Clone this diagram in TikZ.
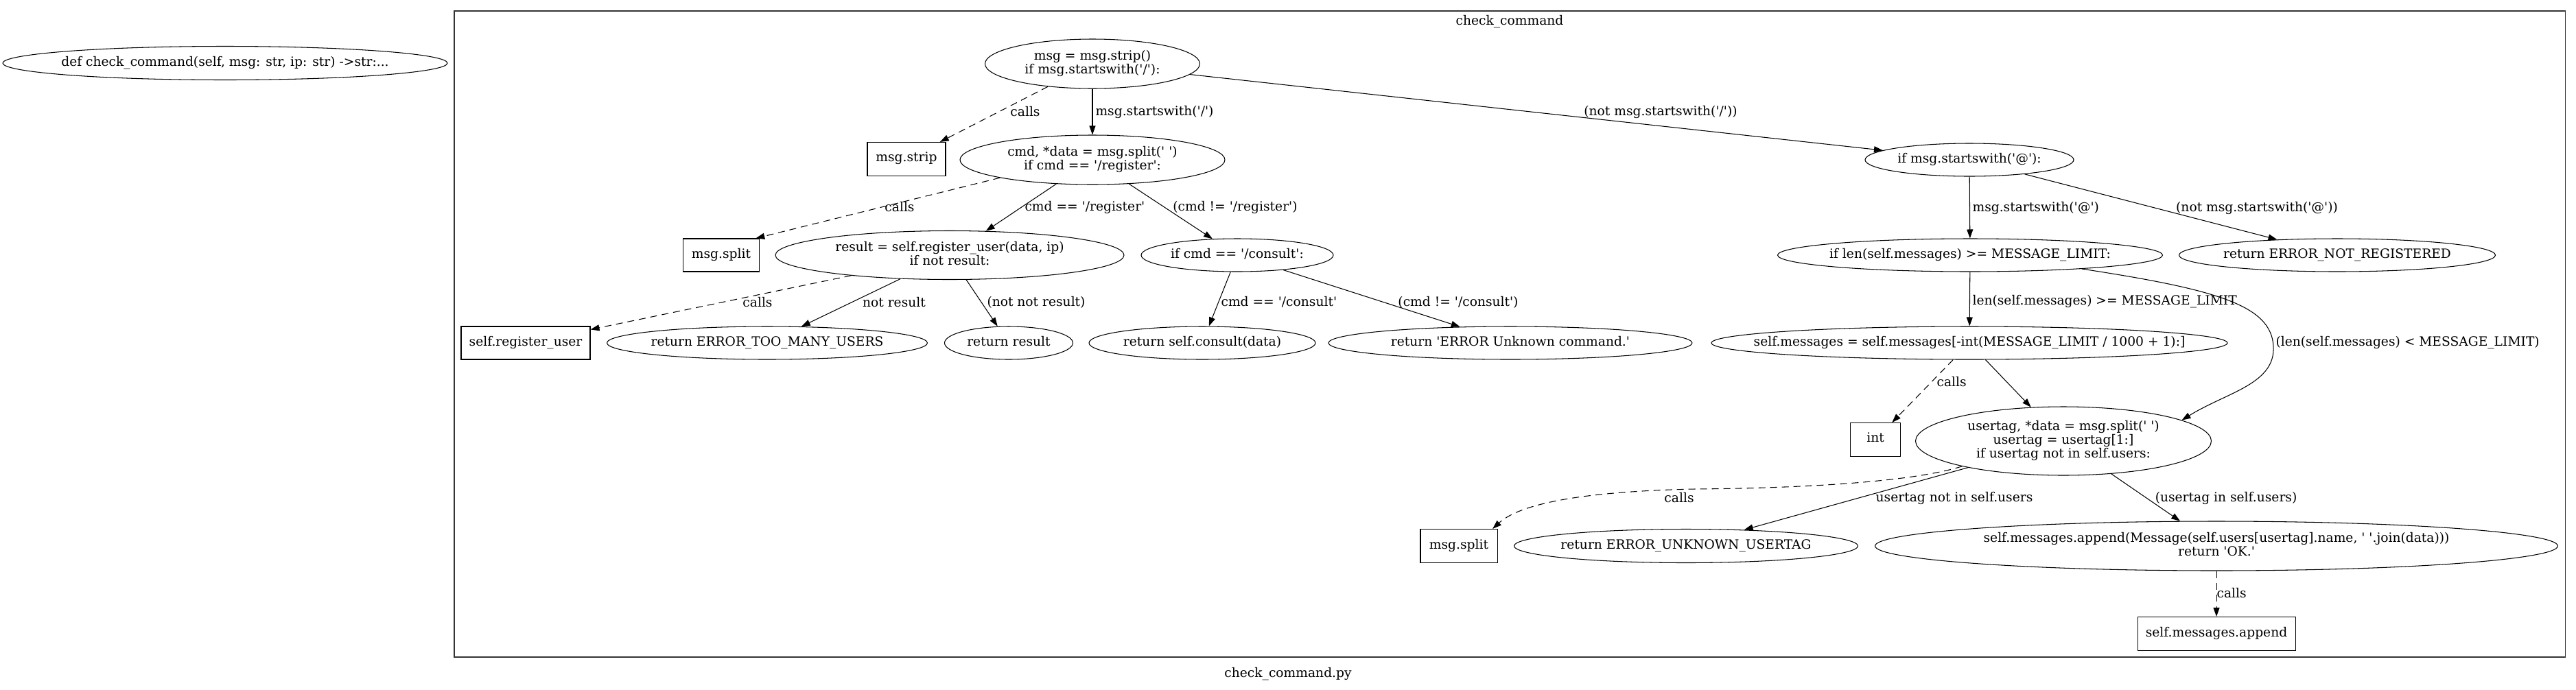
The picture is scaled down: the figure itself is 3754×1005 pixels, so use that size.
\documentclass[tikz,border=0pt]{standalone}
\usepackage{fontspec}
\newfontfamily\gvfont{DejaVu Serif}
\usetikzlibrary{arrows.meta,shapes.geometric}
\newcommand\gvt[1]{\makebox[0pt]{\begin{tabular}{@{}c@{}}#1\end{tabular}}}
\begin{document}
\begin{tikzpicture}[x=1pt,y=-1pt,
  font=\gvfont\fontsize{18.67pt}{19.5pt}\selectfont,
  line width=1.05pt,
  sz/.style 2 args={minimum width=#1pt, minimum height=#2pt},
  ov/.style={draw, ellipse, inner sep=0pt},
  bx/.style={draw, rectangle, inner sep=0pt},
  lbl/.style={inner sep=0pt},
  edge/.style={-{Triangle[length=13pt,width=9pt]}},
  callsedge/.style={edge, dash pattern=on 10pt off 7pt},
]
\useasboundingbox (0,0) rectangle (3754,1005);

% outside node
\node[ov, sz={648}{49}] (L0) at (328,92) {\gvt{def check\_command(self, msg: str, ip: str) ->str:...}};

% cluster
\draw[draw=black!80] (662,16) rectangle (3738,958);
\node[lbl] (ctitle) at (2200,32) {check\_command};
\node[lbl] (cap) at (1877,983) {check\_command.py};

% nodes
\node[ov, sz={313}{72}] (N1) at (1592,93) {\gvt{msg = msg.strip()\\if msg.startswith('/'):}};
\node[bx, sz={114}{49}] (strip) at (1321,232) {\gvt{msg.strip}};
\node[ov, sz={386}{72}] (N2) at (1592,233) {\gvt{cmd, *data = msg.split(' ')\\if cmd == '/register':}};
\node[ov, sz={304}{48}] (N3) at (2870,233) {\gvt{if msg.startswith('@'):}};
\node[bx, sz={111}{48}] (split1) at (1051,372) {\gvt{msg.split}};
\node[ov, sz={508}{71}] (N4) at (1384,372) {\gvt{result = self.register\_user(data, ip)\\if not result:}};
\node[ov, sz={280}{48}] (N5) at (1803,372) {\gvt{if cmd == '/consult':}};
\node[ov, sz={561}{48}] (N10) at (2871,372) {\gvt{if len(self.messages) >= MESSAGE\_LIMIT:}};
\node[ov, sz={461}{48}] (N11) at (3406,372) {\gvt{return ERROR\_NOT\_REGISTERED}};
\node[bx, sz={188}{48}] (reg) at (766,500) {\gvt{self.register\_user}};
\node[ov, sz={467}{48}] (N6) at (1118,500) {\gvt{return ERROR\_TOO\_MANY\_USERS}};
\node[ov, sz={187}{48}] (N7) at (1470,500) {\gvt{return result}};
\node[ov, sz={330}{48}] (N8) at (1752,500) {\gvt{return self.consult(data)}};
\node[ov, sz={530}{48}] (N9) at (2201,500) {\gvt{return 'ERROR Unknown command.'}};
\node[ov, sz={752}{48}] (N12) at (2870,500) {\gvt{self.messages = self.messages[-int(MESSAGE\_LIMIT / 1000 + 1):]}};
\node[bx, sz={73}{49}] (int) at (2733,641) {\gvt{int}};
\node[ov, sz={431}{100}] (N13) at (3007,643) {\gvt{usertag, *data = msg.split(' ')\\usertag = usertag[1:]\\if usertag not in self.users:}};
\node[bx, sz={112}{49}] (split2) at (2126,796) {\gvt{msg.split}};
\node[ov, sz={501}{49}] (N14) at (2457,796) {\gvt{return ERROR\_UNKNOWN\_USERTAG}};
\node[ov, sz={995}{72}] (N15) at (3230,796) {\gvt{self.messages.append(Message(self.users[usertag].name, ' '.join(data)))\\return 'OK.'}};
\node[bx, sz={230}{49}] (append) at (3230,924) {\gvt{self.messages.append}};

% edges
\draw[callsedge] (N1) -- (strip);
\draw[edge] (N1) -- (N2);
\draw[edge] (N1) -- (N3);
\draw[callsedge] (N2.191) -- (split1.26);
\draw[edge] (N2) -- (N4);
\draw[edge] (N2) -- (N5);
\draw[callsedge] (N4) -- (reg);
\draw[edge] (N4) -- (N6);
\draw[edge] (N4) -- (N7);
\draw[edge] (N5) -- (N8);
\draw[edge] (N5) -- (N9);
\draw[edge] (N3) -- (N10);
\draw[edge] (N3) -- (N11);
\draw[edge] (N10) -- (N12);
\draw[edge] (N10.-7) .. controls (3230,422) and (3310,445) .. (3313,505) .. controls (3316,560) and (3245,572) .. (N13.10);
\draw[callsedge] (N12) -- (int);
\draw[edge] (N12) -- (N13);
\draw[callsedge] (N13.194) .. controls (2780,705) and (2600,712) .. (2470,713) .. controls (2330,716) and (2220,730) .. (split2.27);
\draw[edge] (N13) -- (N14);
\draw[edge] (N13) -- (N15);
\draw[callsedge] (N15) -- (append);

% edge labels
\node[lbl] (l1) at (1494,163) {calls};
\node[lbl, anchor=west] (l2) at (1596,163) {msg.startswith('/')};
\node[lbl] (l3) at (2420,163) {(not msg.startswith('/'))};
\node[lbl] (l4) at (1311,302) {calls};
\node[lbl, anchor=west] (l5) at (1493,302) {cmd == '/register'};
\node[lbl] (l6) at (1800,302) {(cmd != '/register')};
\node[lbl, anchor=west] (l7) at (2874,303) {msg.startswith('@')};
\node[lbl] (l8) at (3289,303) {(not msg.startswith('@'))};
\node[lbl] (l9) at (1104,441) {calls};
\node[lbl] (l10) at (1303,441) {not result};
\node[lbl] (l11) at (1510,441) {(not not result)};
\node[lbl, anchor=west] (l12) at (1779,440) {cmd == '/consult'};
\node[lbl] (l13) at (2125,441) {(cmd != '/consult')};
\node[lbl, anchor=west] (l14) at (2874,440) {len(self.messages) >= MESSAGE\_LIMIT};
\node[lbl, anchor=west] (l15) at (3316,500) {(len(self.messages) < MESSAGE\_LIMIT)};
\node[lbl, anchor=west] (l16) at (2822,557) {calls};
\node[lbl] (l17) at (2447,726) {calls};
\node[lbl] (l18) at (2848,726) {usertag not in self.users};
\node[lbl] (l19) at (3244,726) {(usertag in self.users)};
\node[lbl, anchor=west] (l20) at (3230,865) {calls};
\end{tikzpicture}
\end{document}
